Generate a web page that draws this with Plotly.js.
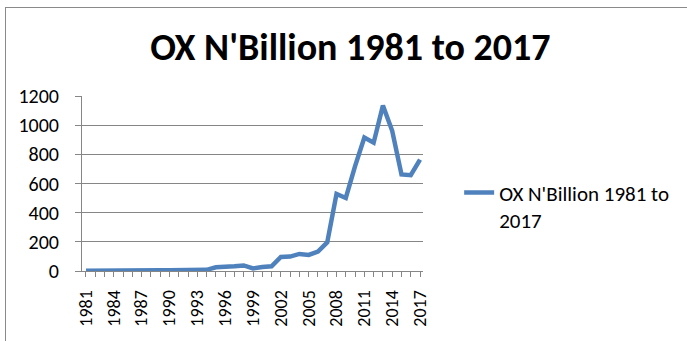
<!DOCTYPE html>
<html><head><meta charset="utf-8">
<script src="https://cdn.plot.ly/plotly-3.0.1.min.js"></script>
<style>
html,body{margin:0;padding:0;background:#fff;}
#frame{position:absolute;left:5px;top:7px;width:720px;height:400px;border:1px solid #8a8a8a;}
#chart{position:absolute;left:0;top:0;width:687px;height:341px;}
</style></head>
<body>
<div id="frame"></div>
<div id="chart"></div>
<script>
const years = [1981,1982,1983,1984,1985,1986,1987,1988,1989,1990,1991,1992,1993,1994,1995,1996,1997,1998,1999,2000,2001,2002,2003,2004,2005,2006,2007,2008,2009,2010,2011,2012,2013,2014,2015,2016,2017];
const values = [1,2,3,5,8,9,5,4,5,5,6,7,7,8,26,27,32,38,18,28,32,96,99,117,110,133,196,529,501,719,915,880,1135,961,662,657,764];
const seriesName = "OX N'Billion 1981 to 2017";
const titleText = "OX N'Billion 1981 to 2017";
const yTicks = [0,200,400,600,800,1000,1200];

const font = "Carlito, Calibri, 'Liberation Sans', sans-serif";
const trace = {
  x: years, y: values, type: 'scatter', mode: 'lines',
  name: "OX N'Billion 1981 to<br>2017",
  line: {color: '#4f81bd', width: 4.5}
};
const layout = {
  width: 687, height: 341,
  margin: {l: 82, r: 264, t: 96, b: 70},
  paper_bgcolor: 'rgba(0,0,0,0)', plot_bgcolor: 'rgba(0,0,0,0)',
  title: {text: '<b>' + titleText + '</b>', font: {family: font, size: 38, color: '#000'}, x: 0.51, xanchor: 'center', y: 0.862, yanchor: 'middle'},
  font: {family: font, color: '#000'},
  showlegend: true,
  legend: {x: 1.106, xanchor: 'left', y: 0.37, yanchor: 'middle', valign: 'top', font: {family: font, size: 21, color: '#000'}, bgcolor: 'rgba(0,0,0,0)'},
  xaxis: {
    range: [1980.57, 2017.32], tickmode: 'linear', tick0: 1981, dtick: 3,
    tickangle: -90, ticks: 'outside', ticklen: 5, tickcolor: '#868686', tickfont: {family: font, size: 18, color: '#000'},
    ticklabelstandoff: 6,
    minor: {tickmode: 'linear', tick0: 1981, dtick: 1, ticks: 'outside', ticklen: 5, tickcolor: '#868686', showgrid: false},
    showgrid: false, zeroline: false, showline: true, linecolor: '#868686', linewidth: 1
  },
  yaxis: {
    range: [0, 1200], tickvals: yTicks, ticktext: yTicks.map(String),
    ticks: 'outside', ticklen: 6, tickcolor: '#868686', tickfont: {family: font, size: 20, color: '#000'},
    ticklabelstandoff: 12,
    showgrid: true, gridcolor: '#868686', gridwidth: 1, zeroline: false,
    showline: true, linecolor: '#868686', linewidth: 1
  }
};
Plotly.newPlot('chart', [trace], layout, {displayModeBar: false, staticPlot: true});
</script>
</body></html>
